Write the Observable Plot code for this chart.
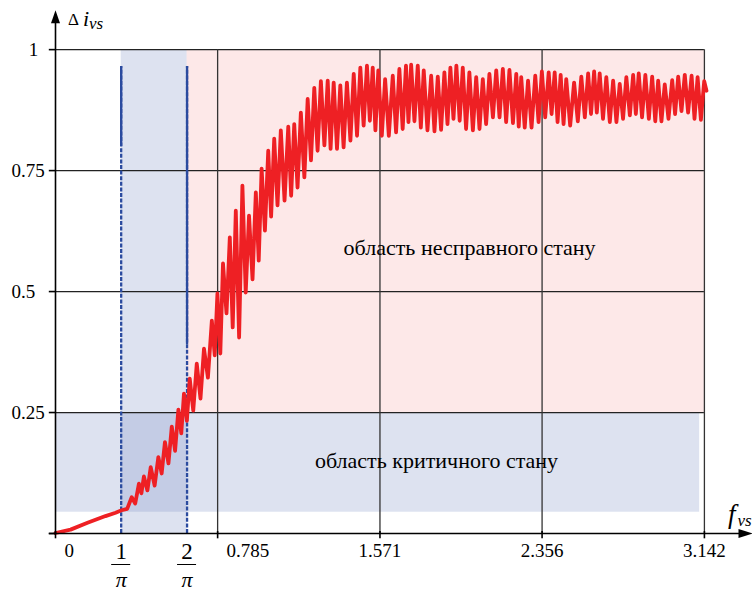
<!DOCTYPE html>
<html><head><meta charset="utf-8">
<script src="https://cdn.jsdelivr.net/npm/d3@7"></script>
<script src="https://cdn.jsdelivr.net/npm/@observablehq/plot@0.6"></script>
<style>
html,body{margin:0;padding:0;background:#fff;}
#chart svg{display:block;}
#chart text{font-family:"Liberation Serif","Times New Roman",serif;}
</style></head><body><div id="chart"></div>
<script>
// ---- data ----
const curveX = [0,0.073,0.155,0.242,0.291,0.320,0.347,
0.369,0.386,0.404,0.416,0.428,0.445,0.461,0.480,0.498,0.514,0.530,0.547,0.563,0.579,0.595,0.609,0.622,0.636,0.650,0.667,0.684,0.702,0.719,0.738,0.757,0.771,0.784,0.798,0.811,0.828,0.844,0.858,0.873,0.889,
0.905,0.921,0.937,0.954,0.970,0.984,0.998,1.014,1.030,1.044,1.059,1.075,1.091,1.109,1.127,1.141,1.156,1.172,1.188,1.205,1.221,1.237,1.253,1.269,1.285,1.302,1.318,1.332,1.347,1.363,1.379,1.395,1.411,1.428,1.444,1.460,1.476,1.492,1.508,1.522,1.536,1.549,1.563,1.580,1.596,1.614,
1.633,1.649,1.665,1.681,1.697,1.709,1.722,1.738,1.754,1.769,1.783,1.801,1.819,1.835,1.851,1.867,1.883,1.898,1.912,1.927,1.941,1.957,1.972,1.988,2.004,2.021,2.037,2.053,2.069,2.085,2.101,2.118,2.134,2.150,2.166,2.182,2.198,2.215,2.231,2.243,2.255,2.272,2.288,2.305,2.323,2.339,2.355,2.371,2.388,2.402,
2.417,2.431,2.446,2.460,2.473,2.492,2.511,2.529,2.546,2.563,2.579,2.593,2.608,2.621,2.635,2.651,2.667,2.684,2.700,2.716,2.732,2.748,2.764,2.781,2.797,2.810,2.824,2.840,2.856,2.873,2.889,2.904,2.918,2.934,2.950,2.968,2.986,3.000,3.015,3.031,3.047,3.063,3.080,3.094,3.109,3.125,3.141,3.152];
const curveY = [0.001,0.008,0.022,0.036,0.043,0.048,0.051,
0.075,0.062,0.103,0.083,0.118,0.089,0.137,0.099,0.158,0.124,0.189,0.145,0.221,0.171,0.256,0.207,0.289,0.233,0.320,0.254,0.351,0.279,0.382,0.322,0.440,0.368,0.496,0.372,0.558,0.455,0.612,0.426,0.667,0.405,
0.719,0.498,0.657,0.525,0.705,0.564,0.754,0.626,0.791,0.655,0.816,0.678,0.833,0.688,0.841,0.698,0.846,0.715,0.870,0.736,0.898,0.771,0.921,0.791,0.935,0.802,0.936,0.795,0.932,0.795,0.926,0.798,0.932,0.812,0.950,0.822,0.963,0.843,0.967,0.853,0.963,0.833,0.957,0.822,0.939,0.822,
0.946,0.829,0.960,0.836,0.967,0.850,0.969,0.852,0.967,0.839,0.957,0.833,0.946,0.831,0.944,0.834,0.953,0.846,0.963,0.857,0.967,0.853,0.963,0.836,0.953,0.833,0.943,0.836,0.939,0.846,0.950,0.860,0.957,0.860,0.960,0.850,0.958,0.848,0.950,0.841,0.943,0.839,0.936,0.839,0.946,0.850,0.955,0.860,0.953,0.867,
0.953,0.850,0.948,0.846,0.939,0.843,0.932,0.852,0.944,0.860,0.951,0.867,0.955,0.870,0.951,0.857,0.943,0.850,0.936,0.850,0.929,0.857,0.943,0.864,0.948,0.867,0.951,0.860,0.948,0.857,0.944,0.852,0.936,0.852,0.928,0.857,0.937,0.867,0.944,0.873,0.948,0.870,0.946,0.857,0.943,0.855,0.935,0.915];

const regionX1 = [0.637, 0.318, 0];
const regionX2 = [3.142, 0.637, 3.119];
const regionY1 = [0.25, 0, 0.044];
const regionY2 = [1, 1, 0.25];

const yTicks = [0.25, 0.5, 0.75, 1];
const yTickLabels = ["0.25", "0.5", "0.75", "1"];
const xTicks = [0, 0.785, 1.571, 2.356, 3.142];
const xTickLabels = ["0", "0.785", "1.571", "2.356", "3.142"];
const fracTicks = [0.318, 0.637];          // 1/π, 2/π
const fracNumerators = ["1", "2"];
const fracDenominator = "π";
const markerTop = 0.965;                  // top of the blue markers
const markerSolidFrom = [0.80, 0.39];

const regionLabels = ["область несправного стану", "область критичного стану"];
const regionLabelX = [2.005, 1.845];
const regionLabelY = [0.591, 0.150];

const yAxisEnd = 1.068;
const xAxisEnd = 3.341;

// ---- build ----
const curve = curveX.map((x, i) => ({x, y: curveY[i]}));
const regions = regionX1.map((x1, i) => ({x1, x2: regionX2[i], y1: regionY1[i], y2: regionY2[i]}));
const labels = regionLabels.map((t, i) => ({t, x: regionLabelX[i], y: regionLabelY[i]}));
const yLab = yTicks.map((v, i) => ({v, t: yTickLabels[i]}));
const xLab = xTicks.map((v, i) => ({v, t: xTickLabels[i]}));
const xMax = xTicks[xTicks.length - 1];

const FONT = '"Liberation Serif", "Times New Roman", serif';
const upArrow = {draw(c){ c.moveTo(0,-6.5); c.lineTo(4.5,6.5); c.lineTo(-4.5,6.5); c.closePath(); }};
const rightArrow = {draw(c){ c.moveTo(7,0); c.lineTo(-7,-4.5); c.lineTo(-7,4.5); c.closePath(); }};
const BLUE = "#2b4b9f";

const chart = Plot.plot({
  width: 752, height: 593,
  marginLeft: 55, marginRight: 1, marginTop: 8, marginBottom: 60,
  x: {domain: [0, 3.37], axis: null},
  y: {domain: [0, 1.085], axis: null},
  style: {background: "#fff", overflow: "visible", color: "#000"},
  marks: [
    Plot.rect(regions.slice(0, 1), {x1: "x1", x2: "x2", y1: "y1", y2: "y2", fill: "#fde8e8"}),
    Plot.rect(regions.slice(1), {x1: "x1", x2: "x2", y1: "y1", y2: "y2", fill: "#7b8fc4", fillOpacity: 0.26}),
    Plot.ruleY(yTicks, {y: d => d, x1: () => 0, x2: () => xMax, stroke: "#222", strokeWidth: 1.3}),
    Plot.ruleX(xTicks.slice(1), {x: d => d, y1: () => 0, y2: () => 1, stroke: "#333", strokeWidth: 1.3}),
    Plot.ruleX(fracTicks, {x: d => d, y1: () => 0, y2: () => markerTop, stroke: BLUE, strokeWidth: 2.3, strokeDasharray: "4,1.6"}),
    Plot.ruleX(fracTicks, {x: d => d, y1: (d, i) => markerSolidFrom[i], y2: () => markerTop, stroke: BLUE, strokeWidth: 2.3}),
    Plot.line(curve, {x: "x", y: "y", stroke: "#ee2024", strokeWidth: 3.8, strokeLinejoin: "round", strokeLinecap: "round"}),
    Plot.text(labels, {x: "x", y: "y", text: "t", fontSize: 22, fill: "#000", fontFamily: FONT}),
    // axes
    Plot.ruleX([0], {x: d => d, y1: () => 0, y2: () => yAxisEnd, stroke: "#000", strokeWidth: 1.6}),
    Plot.ruleY([0], {y: d => d, x1: () => -0.03, x2: () => xAxisEnd, stroke: "#000", strokeWidth: 1.6}),
    Plot.ruleY([0, ...yTicks], {y: d => d, x1: () => -0.03, x2: () => 0, stroke: "#000", strokeWidth: 1.6}),
    Plot.ruleX(xTicks, {x: d => d, y1: () => 0.004, y2: () => -0.011, stroke: "#000", strokeWidth: 1.6}),
    Plot.dot([0], {x: d => d, y: () => yAxisEnd, symbol: upArrow, fill: "#000", stroke: "none"}),
    Plot.dot([0], {x: () => xAxisEnd, y: d => d, symbol: rightArrow, fill: "#000", stroke: "none"}),
    // tick labels
    Plot.text(yLab.filter(d => d.t !== "1"), {x: () => 0, y: "v", text: "t", textAnchor: "start", dx: -44, fontSize: 19, fontFamily: FONT}),
    Plot.text(yLab.filter(d => d.t === "1"), {x: () => 0, y: "v", text: "t", textAnchor: "middle", dx: -22, fontSize: 19, fontFamily: FONT}),
    Plot.text(xLab.slice(0, 2), {x: "v", y: () => 0, text: "t", textAnchor: "start", dx: 9, dy: 17, fontSize: 19, fontFamily: FONT}),
    Plot.text(xLab.slice(2), {x: "v", y: () => 0, text: "t", textAnchor: "middle", dy: 17, fontSize: 19, fontFamily: FONT}),
    Plot.text(fracTicks, {x: d => d, y: () => 0, text: (d, i) => fracNumerators[i], dy: 18, fontSize: 23, fontFamily: FONT}),
    Plot.ruleY(fracTicks, {y: () => 0, x1: d => d, x2: d => d, dy: 31, insetLeft: -9.5, insetRight: -9.5, stroke: "#000", strokeWidth: 1}),
    Plot.text(fracTicks, {x: d => d, y: () => 0, text: () => fracDenominator, dy: 46, fontSize: 22, fontStyle: "italic", fontFamily: FONT})
  ]
});
document.getElementById("chart").appendChild(chart);

const svg = d3.select(chart);
// white boxes behind region labels
svg.selectAll("text").each(function() {
  if (regionLabels.includes(this.textContent)) {
    const b = this.getBBox();
    d3.select(this.parentNode).insert("rect", () => this)
      .attr("x", b.x - 9).attr("y", b.y + b.height / 2 - 14).attr("width", b.width + 18).attr("height", 29)
      .attr("fill", "#fff");
  }
});
// axis titles
const sx = chart.scale("x"), sy = chart.scale("y");
const x0 = sx.apply(0), yTop = sy.apply(yAxisEnd);
const yt = svg.append("text").attr("x", x0 + 13).attr("y", yTop + 9).attr("text-anchor", "start")
  .attr("font-family", FONT).attr("font-size", 17).attr("fill", "#000");
yt.append("tspan").text("Δ");
yt.append("tspan").attr("dx", 4).attr("dy", 1).attr("font-size", 22).attr("font-style", "italic").text("i");
yt.append("tspan").attr("dy", 3).attr("font-size", 17).attr("font-style", "italic").text("vs");
const y0 = sy.apply(0), xEnd = sx.apply(xAxisEnd);
const xt = svg.append("text").attr("x", xEnd - 17).attr("y", y0 - 10).attr("text-anchor", "start")
  .attr("font-family", FONT).attr("font-size", 27).attr("font-style", "italic").attr("fill", "#000");
xt.append("tspan").text("f");
xt.append("tspan").attr("dx", 2).attr("dy", 3).attr("font-size", 17).text("vs");
</script>
</body></html>
